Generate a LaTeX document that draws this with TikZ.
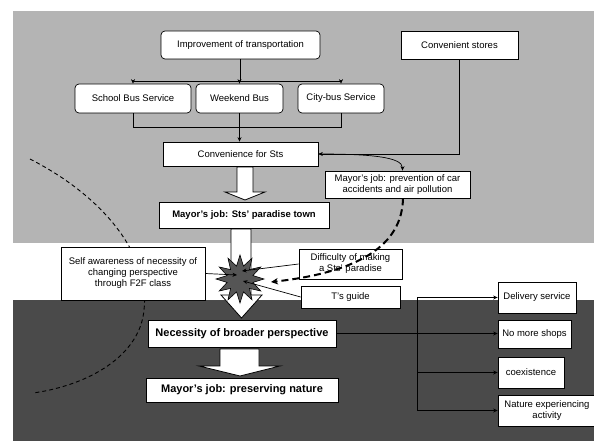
\documentclass[tikz,border=0pt]{standalone}
\usepackage{fontspec}
\setmainfont{Liberation Sans}
\usetikzlibrary{arrows.meta,shapes.geometric}
\definecolor{topgray}{HTML}{B4B4B4}
\definecolor{darkbg}{HTML}{4A4A4A}
\definecolor{burstgray}{HTML}{555555}
\begin{document}
\begin{tikzpicture}[x=1pt,y=-1pt,
  box/.style={draw=black,line width=0.7pt,fill=white,inner sep=0pt,align=center,
              font=\fontsize{9.5}{11}\selectfont},
  rbox/.style={box,rounded corners=4pt},
  bbox/.style={box,font=\bfseries\fontsize{9.5}{11}\selectfont},
  Bbox/.style={box,font=\bfseries\fontsize{11}{13}\selectfont},
  sz/.style 2 args={minimum width=#1pt,minimum height=#2pt},
  conn/.style={line width=0.7pt},
  arr/.style={conn,-{Stealth[length=4.5pt,width=4pt]}},
  hollow/.style={draw=black,line width=0.8pt,fill=white},
  thickdash/.style={line width=2pt,dash pattern=on 7pt off 4pt,-{Stealth[length=7pt,width=6.5pt]}},
  thindash/.style={line width=0.9pt,dash pattern=on 4pt off 3pt},
]
\useasboundingbox (0,0) rectangle (594,441);
% backgrounds
\fill[topgray] (13,11) rectangle (594,243);
\fill[darkbg] (13,300) rectangle (594,441);

% left dashed curve
\draw[thindash] (30,159) .. controls (110,200) and (150,260) .. (144,310)
                .. controls (140,355) and (90,385) .. (33,393);

% nodes
\node[rbox,sz={159}{28}] (imp) at (240.5,45) {Improvement of transportation};
\node[box,sz={117}{28}] (stores) at (459.5,45) {Convenient stores};
\node[rbox,sz={116}{29}] (school) at (133,98.5) {School Bus Service};
\node[rbox,sz={87}{29}] (weekend) at (239.5,98.5) {Weekend Bus};
\node[rbox,sz={86}{29}] (city) at (341,98.5) {City-bus Service};
\node[box,sz={155}{24}] (conv) at (240.5,154) {Convenience for Sts};
\node[box,sz={145}{27}] (prev) at (397.5,184.5) {Mayor's job: prevention of car\\accidents and air pollution};
\node[bbox,sz={170}{26}] (paradise) at (244,215) {Mayor's job: Sts' paradise town};
\node[box,sz={144}{53}] (self) at (133,273.5) {Self awareness of necessity of\\changing perspective\\through F2F class};
\node[box,sz={103}{30}] (diff) at (350.5,264) {Difficulty of making\\a Sts' paradise};
\node[box,sz={99}{22}] (tguide) at (350.5,297) {T's guide};
\node[Bbox,sz={188}{27}] (nec) at (242,333.5) {Necessity of broader perspective};
\node[Bbox,sz={192}{24}] (pres) at (242,390) {Mayor's job: preserving nature};
\node[box,sz={78}{31}] (deliv) at (537,297.5) {Delivery service};
\node[box,sz={73}{28}] (noshops) at (534.5,334) {No more shops};
\node[box,sz={66}{31}] (coex) at (531,372.5) {coexistence};
\node[box,sz={98}{31}] (nature) at (547,410.5) {Nature experiencing\\activity};

% tree connectors
\coordinate (tb) at (0,81);
\coordinate (lb) at (0,127);
\draw[conn] (imp.south) -- (imp.south |- tb);
\draw[conn] (school.north |- tb) -- (city.north |- tb);
\draw[arr] (school.north |- tb) -- (school.north);
\draw[arr] (weekend.north |- tb) -- (weekend.north);
\draw[arr] (city.north |- tb) -- (city.north);
\draw[conn] (school.south) -- (school.south |- lb) -- (city.south |- lb) -- (city.south);
\draw[arr] (weekend.south) -- (weekend.south |- conv.north);
\draw[arr] (stores.south) |- (conv.east);
\draw[arr] (conv.east) .. controls +(50,0) and +(0,-14) .. ([xshift=5pt]prev.north);

% block arrows
\draw[hollow] (237,167) -- (253,167) -- (253,192) -- (265,192) -- (245,200) -- (225,192) -- (237,192) -- cycle;
\draw[hollow] (231,229) -- (251,229) -- (251,295) -- (262,295) -- (241.5,318) -- (221,295) -- (231,295) -- cycle;
\draw[hollow] (220,349) -- (259,349) -- (259,366) -- (280,366) -- (240,376) -- (199,366) -- (220,366) -- cycle;

% burst
\node[star,star points=12,star point ratio=1.8,minimum size=48pt,inner sep=0pt,
      draw=black,line width=0.6pt,fill=burstgray] (burst) at (240,279) {};
\coordinate (s1) at (237,275);
\coordinate (s2) at (242,271);
\coordinate (s3) at (243,281);
\coordinate (s4) at (271,282);
\draw[arr] (self.east) -- (s1);
\draw[arr] (diff.west) -- (s2);
\draw[arr] (tguide.west) -- (s3);
\draw[thickdash] ([xshift=5.5pt]prev.south) .. controls (402,245) and (360,272) .. (s4);

% right bracket
\coordinate (bx) at (417,0);
\draw[arr] (nec.east) -- (noshops.west |- nec.east);
\draw[conn] (bx |- deliv.west) -- (bx |- nature.west);
\draw[arr] (bx |- deliv.west) -- (deliv.west);
\draw[arr] (bx |- coex.west) -- (coex.west);
\draw[arr] (bx |- nature.west) -- (nature.west);
\end{tikzpicture}
\end{document}
